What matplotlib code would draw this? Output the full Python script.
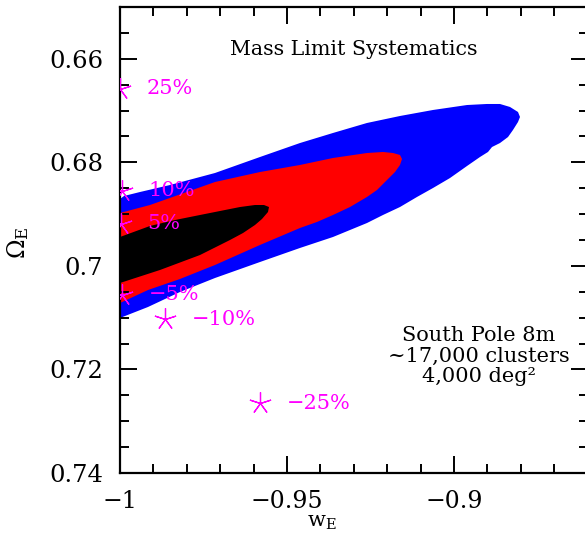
import numpy as np
import matplotlib
matplotlib.use('Agg')
import matplotlib.pyplot as plt
from matplotlib.ticker import MultipleLocator, FuncFormatter

# contour outlines (w, Omega)
blue_w = [-1.0, -0.99880, -0.99401, -0.98503, -0.97156, -0.95808, -0.94611, -0.93623,
          -0.92605, -0.91617, -0.90629, -0.89611, -0.89012, -0.88623, -0.88323, -0.88084,
          -0.88024, -0.88084, -0.88234, -0.88383, -0.88623, -0.88862, -0.88982, -0.89222,
          -0.89611, -0.90120, -0.90629, -0.91108, -0.91617, -0.92126, -0.92605, -0.93623,
          -0.94611, -0.95808, -0.97156, -0.98204, -0.99162, -1.0]
blue_om = [0.68708, 0.68650, 0.68573, 0.68438, 0.68206, 0.67897, 0.67627, 0.67433,
           0.67240, 0.67105, 0.66989, 0.66893, 0.66873, 0.66873, 0.66931, 0.67028,
           0.67124, 0.67221, 0.67375, 0.67511, 0.67627, 0.67704, 0.67800, 0.67897,
           0.68071, 0.68303, 0.68496, 0.68669, 0.68863, 0.69017, 0.69172, 0.69442,
           0.69654, 0.69925, 0.70234, 0.70504, 0.70794, 0.71006]

red_w = [-1.0, -0.99102, -0.97156, -0.95808, -0.94611, -0.93623, -0.92605, -0.92126,
         -0.91826, -0.91617, -0.91557, -0.91617, -0.91766, -0.92006, -0.92305, -0.92605,
         -0.93114, -0.93623, -0.94102, -0.94611, -0.95808, -0.97156, -0.98204, -0.99162,
         -1.0]
red_om = [0.68978, 0.68824, 0.68380, 0.68187, 0.68051, 0.67916, 0.67820, 0.67800,
          0.67820, 0.67858, 0.67936, 0.68051, 0.68187, 0.68341, 0.68534, 0.68669,
          0.68863, 0.69017, 0.69152, 0.69268, 0.69596, 0.69983, 0.70253, 0.70466,
          0.70717]

black_w = [-1.0, -0.99102, -0.98353, -0.97605, -0.97006, -0.96407, -0.95958, -0.95689,
           -0.95539, -0.95569, -0.95749, -0.95958, -0.96317, -0.96707, -0.97605, -0.98802,
           -1.0]
black_om = [0.69442, 0.69229, 0.69114, 0.69017, 0.68940, 0.68863, 0.68824, 0.68824,
            0.68863, 0.68959, 0.69094, 0.69210, 0.69365, 0.69500, 0.69790, 0.70079,
            0.70330]

# shifted best fits for mass limit offsets
sys_labels = ['25%', '10%', '5%', '\u22125%', '\u221210%', '\u221225%']
sys_w = [-1.0, -0.9994, -0.9997, -0.9994, -0.9865, -0.9581]
sys_om = [0.6658, 0.6855, 0.6919, 0.7056, 0.7103, 0.7265]

xticks_major = 0.05
yticks_major = 0.02

plt.rcParams['font.family'] = 'DejaVu Serif'
plt.rcParams['mathtext.fontset'] = 'dejavuserif'

fig = plt.figure(figsize=(5.85, 5.41), dpi=100)
ax = fig.add_axes([120 / 585, 68 / 541, 467.6 / 585, 466 / 541])

ax.fill(blue_w, blue_om, color='#0000ff', lw=0)
ax.fill(red_w, red_om, color='#ff0000', lw=0)
ax.fill(black_w, black_om, color='black', lw=0)

ax.plot(sys_w, sys_om, ls='none', marker=(5, 2, 0), ms=16, mew=0.9,
        color='#ff00ff', zorder=5)
for lab, w, om in zip(sys_labels, sys_w, sys_om):
    ax.annotate(lab, (w, om), xytext=(19, 0), textcoords='offset points',
                ha='left', va='center', fontsize=15, color='#ff00ff')

ax.set_xlim(-1.0, -0.86)
ax.set_ylim(0.74, 0.65)

ax.xaxis.set_major_locator(MultipleLocator(xticks_major))
ax.xaxis.set_minor_locator(MultipleLocator(0.01))
ax.yaxis.set_major_locator(MultipleLocator(yticks_major))
ax.yaxis.set_minor_locator(MultipleLocator(0.005))
fmt = FuncFormatter(lambda v, p: f'{v:g}'.replace('-', '\u2212'))
ax.xaxis.set_major_formatter(fmt)
ax.yaxis.set_major_formatter(fmt)

ax.tick_params(which='both', direction='in', top=True, right=True, width=1.4,
               labelsize=17, pad=12)
ax.tick_params(axis='y', labelsize=17.5)
ax.tick_params(which='major', length=12)
ax.tick_params(which='minor', length=6.5)
for s in ax.spines.values():
    s.set_linewidth(1.6)

ax.set_xlabel(r'w$_{\rm E}$', fontsize=15)
ax.xaxis.set_label_coords(0.432, -0.086)
ax.set_ylabel(r'$\Omega_{\rm E}$', fontsize=17)
ax.yaxis.set_label_coords(-0.19, 0.494)

ax.text(0.5, 0.908, 'Mass Limit Systematics', transform=ax.transAxes,
        ha='center', va='center', fontsize=14.8)
ax.text(0.768, 0.251, 'South Pole 8m\n~17,000 clusters\n4,000 deg\u00b2',
        transform=ax.transAxes, ha='center', va='center', multialignment='center',
        fontsize=15, linespacing=1.08)

fig.savefig('out.png', dpi=100)
